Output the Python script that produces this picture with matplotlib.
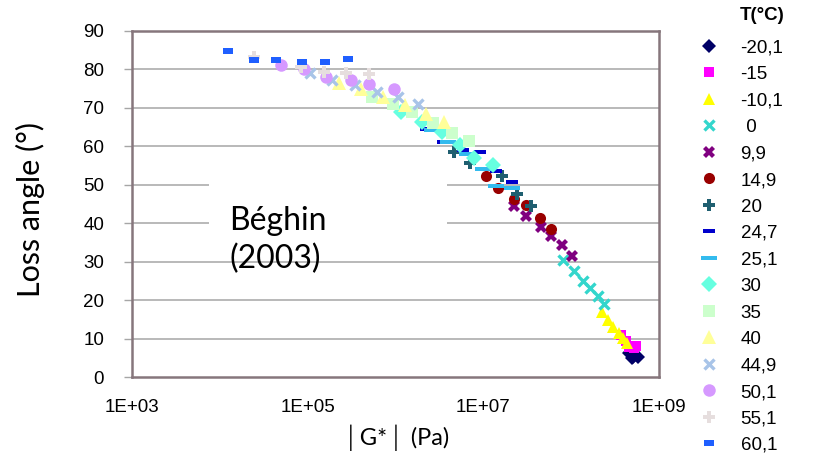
import matplotlib
matplotlib.use("Agg")
import matplotlib.pyplot as plt
from matplotlib.patches import Rectangle

# ---------------- data ----------------
temps = ['-20,1', '-15', '-10,1', ' 0', '9,9', '14,9', '20', '24,7',
         '25,1', '30', '35', '40', '44,9', '50,1', '55,1', '60,1']

g_m20 = [4.5e8, 4.9e8, 5.1e8, 5.75e8]
a_m20 = [6.2, 4.9, 5.3, 5.1]
g_m15 = [3.7e8, 4.2e8, 4.6e8, 5.2e8, 5.5e8]
a_m15 = [11.0, 9.3, 7.7, 7.5, 8.0]
g_m10 = [2.24e8, 2.63e8, 3.0e8, 3.47e8, 3.9e8, 4.3e8]
a_m10 = [17.0, 14.8, 13.1, 11.5, 10.1, 8.8]
g_0 = [8.1e7, 1.07e8, 1.35e8, 1.62e8, 2.0e8, 2.35e8]
a_0 = [30.4, 27.7, 25.1, 23.1, 21.1, 19.0]
g_10 = [2.24e7, 3.1e7, 4.5e7, 5.9e7, 7.9e7, 1.02e8]
a_10 = [44.5, 42.0, 39.1, 36.7, 34.3, 31.6]
g_15 = [1.07e7, 1.48e7, 2.24e7, 3.1e7, 4.4e7, 5.9e7]
a_15 = [52.3, 49.2, 46.2, 44.7, 41.3, 38.4]
g_20 = [4.6e6, 7.1e6, 1.62e7, 2.4e7, 3.5e7]
a_20 = [58.6, 55.7, 52.3, 47.5, 44.6]
g_247 = [2.2e6, 3.5e6, 5.9e6, 9.1e6, 1.41e7, 2.1e7]
a_247 = [64.4, 61.2, 59.0, 58.6, 53.6, 50.8]
g_251 = [2.6e6, 4.0e6, 6.5e6, 1.0e7, 1.41e7, 2.14e7]
a_251 = [64.3, 61.0, 57.9, 54.0, 49.8, 49.1]
g_30 = [1.17e6, 2.0e6, 3.4e6, 5.4e6, 7.9e6, 1.29e7]
a_30 = [69.0, 66.3, 63.6, 60.4, 56.9, 55.2]
g_35 = [5.4e5, 9.4e5, 1.55e6, 2.7e6, 4.4e6, 6.9e6]
a_35 = [72.9, 71.0, 68.9, 66.0, 63.4, 61.4]
g_40 = [2.3e5, 4.1e5, 7.2e5, 1.29e6, 2.24e6, 3.6e6]
a_40 = [76.6, 74.8, 72.9, 70.8, 68.3, 66.4]
g_449 = [1.07e5, 1.9e5, 3.5e5, 6.2e5, 1.06e6, 1.82e6]
a_449 = [79.0, 77.3, 76.0, 74.1, 72.9, 71.0]
g_501 = [5.0e4, 9.1e4, 1.6e5, 3.1e5, 5.0e5, 9.5e5]
a_501 = [81.2, 80.0, 78.1, 77.3, 76.2, 74.8]
g_551 = [2.45e4, 8.3e4, 1.53e5, 2.7e5, 5.0e5]
a_551 = [83.3, 80.6, 79.4, 79.0, 78.7]
g_601 = [1.25e4, 2.45e4, 4.4e4, 8.6e4, 1.57e5, 2.86e5]
a_601 = [84.8, 82.5, 82.5, 82.0, 82.0, 82.7]

xticks = [1e3, 1e5, 1e7, 1e9]
xtick_labels = ['1E+03', '1E+05', '1E+07', '1E+09']
yticks = [0, 10, 20, 30, 40, 50, 60, 70, 80, 90]

# ---------------- styles ----------------
dash_s = [(-1, -0.35), (1, -0.35), (1, 0.35), (-1, 0.35)]
dash_l = [(-1, -0.25), (1, -0.25), (1, 0.25), (-1, 0.25)]
sq_s = [(-1, -0.6), (1, -0.6), (1, 0.6), (-1, 0.6)]

series = [
    (g_m20, a_m20, dict(marker='D', color='#000066', ms=7, mew=0)),
    (g_m15, a_m15, dict(marker='s', color='#ff00ff', ms=7, mew=0)),
    (g_m10, a_m10, dict(marker='^', color='#ffff00', ms=9, mew=0)),
    (g_0, a_0, dict(marker='x', color='#33d6cc', ms=7, mew=2.4)),
    (g_10, a_10, dict(marker='X', color='#800080', ms=8, mew=0)),
    (g_15, a_15, dict(marker='o', color='#990000', ms=8, mew=0)),
    (g_20, a_20, dict(marker='P', color='#1f5f70', ms=8, mew=0)),
    (g_247, a_247, dict(marker=dash_s, color='#0000cc', ms=8, mew=0)),
    (g_251, a_251, dict(marker=dash_l, color='#33bbee', ms=11, mew=0)),
    (g_30, a_30, dict(marker='D', color='#66ffe0', ms=8, mew=0)),
    (g_35, a_35, dict(marker='s', color='#ccffcc', ms=9, mew=0)),
    (g_40, a_40, dict(marker='^', color='#ffff99', ms=10, mew=0)),
    (g_449, a_449, dict(marker='x', color='#a8c4e8', ms=7, mew=2.4)),
    (g_501, a_501, dict(marker='o', color='#d699ff', ms=9, mew=0)),
    (g_551, a_551, dict(marker='P', color='#e6dede', ms=8, mew=0)),
    (g_601, a_601, dict(marker=sq_s, color='#1f5fff', ms=7, mew=0)),
]

fig = plt.figure(figsize=(8.13, 4.61), dpi=100)
ax = fig.add_axes([132 / 813, 1 - 377 / 461, 527 / 813, 346 / 461])

ax.set_xscale('log')
ax.set_xlim(1e3, 1e9)
ax.set_ylim(0, 90)

handles = []
for (g, a, st), lab in zip(series, temps):
    h, = ax.plot(g, a, linestyle='none', label=lab, zorder=3, **st)
    handles.append(h)

# grid
for y in yticks[1:-1]:
    ax.axhline(y, color='#a6a6a6', lw=1.1, zorder=1)
# white text box over grid
ax.add_patch(Rectangle((0.147, 0.385), 0.45, 0.2, transform=ax.transAxes,
                       facecolor='white', edgecolor='none', zorder=2))
ax.text(0.185, 0.395, 'Béghin\n(2003)', transform=ax.transAxes,
        fontsize=23, family='Lato', va='center', ha='left',
        linespacing=1.32, zorder=4)

frame_c = '#86767c'
for sp in ax.spines.values():
    sp.set_color(frame_c)
    sp.set_linewidth(1.8)

ax.set_yticks(yticks)
ax.set_xticks(xticks)
ax.set_xticklabels(xtick_labels)
ax.minorticks_off()
ax.tick_params(axis='y', length=6, width=1, color='#a6a6a6', pad=14,
               labelsize=13.5, labelfontfamily='Liberation Sans')
ax.tick_params(axis='x', length=0, pad=16,
               labelsize=13.5, labelfontfamily='Liberation Sans')

ax.set_ylabel('Loss angle (°)', fontsize=22, family='Lato')
ax.yaxis.set_label_coords(-0.166, 0.483)
ax.set_xlabel('│G*│ (Pa)', fontsize=17, family='Lato', labelpad=6)

leg = fig.legend(handles=handles, loc='upper left',
                 bbox_to_anchor=(688 / 813, 1 - 30 / 461),
                 frameon=False, handlelength=1.2,
                 handletextpad=1.1, labelspacing=0.5, borderpad=0,
                 prop={'family': 'Liberation Sans', 'size': 13.5})
fig.text(762 / 813, 1 - 15 / 461, 'T(°C)', ha='center', va='center',
         fontsize=13.5, fontweight='bold', family='Liberation Sans')

fig.savefig('out.png', dpi=100)
